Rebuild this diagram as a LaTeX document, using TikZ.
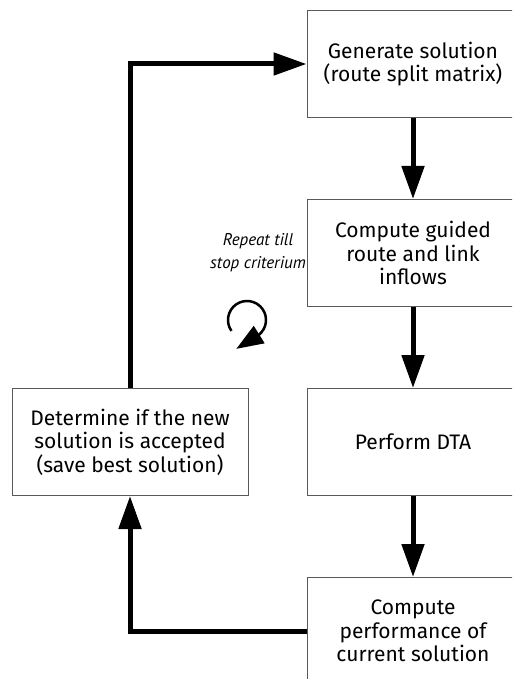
\documentclass[tikz,border=0pt]{standalone}
\usepackage{fontspec}
\setmainfont{Fira Sans}
\newfontfamily\notefont{PT Sans}
\usetikzlibrary{
  arrows.meta,
  positioning
}
\tikzset{
  stepbox/.style={draw=black!65, line width=1pt, align=center,
    minimum width=212pt, minimum height=107pt, inner sep=2pt,
    font=\fontsize{21}{23.5}\selectfont},
  flow/.style={line width=5pt, -{Triangle[length=33pt,width=22pt]}},
}

\begin{document}
\begin{tikzpicture}[x=1pt,y=1pt]
      \clip (0,0) rectangle (512,-679);
      \node[stepbox] (gen) at (413,-64) {
        Generate solution \\
        (route split matrix)
      };
      \node[stepbox] (guided) [below = 81pt of gen] {
        Compute guided \\
        route and link \\
        inflows
      };
      \node[stepbox] (dta) [below = 81pt of guided] {Perform DTA};
      \node[stepbox] (perf) [below = 81pt of dta] {
        Compute \\
        performance of \\
        current solution
      };
      \node[stepbox, minimum width=236pt] (accept) [left = 58pt of dta] {
        Determine if the new \\
        solution is accepted \\
        (save best solution)
      };
      \node[align=center, font=\notefont\itshape\fontsize{17}{23}\selectfont] (repeat) at (258,-253) {
        Repeat till \\
        stop criterium
      };
      \coordinate (loop) at (247,-320);

      \draw[flow] (gen) -- (guided);
      \draw[flow] (guided) -- (dta);
      \draw[flow] (dta) -- (perf);
      \draw[flow] (perf.west) -| (accept.south);
      \draw[flow] (accept.north) |- (gen.west);
      % loop sign
      \draw[line width=2.5pt, -{Triangle[length=27pt,width=20pt]}]
        (loop) ++(215:19) arc[start angle=215, end angle=-50, radius=19]
        -- ++(212:27);
    \end{tikzpicture}
\end{document}
